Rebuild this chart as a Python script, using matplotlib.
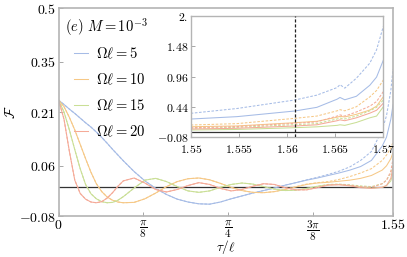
import matplotlib
matplotlib.use("Agg")
import matplotlib.pyplot as plt
from matplotlib.lines import Line2D

plt.rcParams['mathtext.fontset'] = 'cm'
plt.rcParams['font.family'] = 'serif'
plt.rcParams['font.serif'] = ['DejaVu Serif']

# --- main panel data (tau/l, F) ---
x_main = [0, 0.025, 0.05, 0.075, 0.1, 0.125, 0.15, 0.175, 0.2, 0.225, 0.25, 0.275, 0.3,
          0.35, 0.4, 0.45, 0.5, 0.55, 0.6, 0.65, 0.7, 0.75, 0.8, 0.85, 0.9, 0.95, 1.0,
          1.05, 1.1, 1.15, 1.2, 1.25, 1.3, 1.35, 1.4, 1.45, 1.5, 1.52, 1.54, 1.55]

blue_solid = [0.243, 0.231, 0.218, 0.206, 0.193, 0.180, 0.168, 0.154, 0.139, 0.123, 0.106, 0.090, 0.074,
              0.044, 0.018, -0.003, -0.020, -0.033, -0.041, -0.046, -0.047, -0.041, -0.032, -0.024, -0.016, -0.009, -0.002,
              0.006, 0.013, 0.020, 0.026, 0.033, 0.040, 0.048, 0.058, 0.075, 0.115, 0.14, 0.19, 0.23]
blue_dash = [0.243, 0.231, 0.218, 0.206, 0.193, 0.180, 0.168, 0.154, 0.139, 0.123, 0.106, 0.090, 0.074,
             0.044, 0.018, -0.003, -0.020, -0.033, -0.041, -0.046, -0.047, -0.041, -0.032, -0.024, -0.016, -0.009, -0.002,
             0.006, 0.013, 0.021, 0.028, 0.036, 0.045, 0.057, 0.075, 0.100, 0.16, 0.20, 0.27, 0.33]

orange_solid = [0.243, 0.225, 0.195, 0.160, 0.120, 0.080, 0.042, 0.010, -0.012, -0.027, -0.036, -0.041, -0.043,
                -0.042, -0.032, -0.016, 0.002, 0.016, 0.024, 0.026, 0.021, 0.011, 0.000, -0.009, -0.014, -0.015, -0.012,
                -0.006, 0.001, 0.008, 0.012, 0.014, 0.017, 0.020, 0.025, 0.033, 0.048, 0.060, 0.080, 0.097]
orange_dash = [0.243, 0.225, 0.195, 0.160, 0.120, 0.080, 0.042, 0.010, -0.012, -0.027, -0.036, -0.041, -0.043,
               -0.042, -0.032, -0.016, 0.002, 0.016, 0.024, 0.026, 0.021, 0.011, 0.000, -0.009, -0.014, -0.015, -0.012,
               -0.006, 0.002, 0.009, 0.013, 0.016, 0.022, 0.030, 0.040, 0.052, 0.075, 0.090, 0.110, 0.126]

green_solid = [0.243, 0.210, 0.160, 0.105, 0.052, 0.008, -0.018, -0.032, -0.040, -0.043, -0.042, -0.036, -0.026,
               -0.002, 0.020, 0.025, 0.016, 0.002, -0.010, -0.014, -0.010, 0.000, 0.008, 0.012, 0.009, 0.002, -0.005,
               -0.009, -0.008, -0.003, 0.003, 0.007, 0.008, 0.005, 0.001, -0.002, 0.000, 0.005, 0.018, 0.040]
green_dash = [0.243, 0.210, 0.160, 0.105, 0.052, 0.008, -0.018, -0.032, -0.040, -0.043, -0.042, -0.036, -0.026,
              -0.002, 0.020, 0.025, 0.016, 0.002, -0.010, -0.014, -0.010, 0.000, 0.008, 0.012, 0.009, 0.002, -0.005,
              -0.009, -0.008, -0.003, 0.003, 0.008, 0.009, 0.007, 0.004, 0.002, 0.010, 0.020, 0.040, 0.070]

red_solid = [0.243, 0.190, 0.100, 0.020, -0.017, -0.033, -0.041, -0.043, -0.040, -0.030, -0.015, 0.003, 0.018,
             0.026, 0.012, -0.006, -0.013, -0.006, 0.005, 0.013, 0.008, -0.003, -0.010, -0.006, 0.003, 0.010, 0.008,
             -0.001, -0.007, -0.007, -0.001, 0.006, 0.007, 0.004, -0.001, -0.003, 0.000, 0.005, 0.025, 0.057]
red_dash = [0.243, 0.190, 0.100, 0.020, -0.017, -0.033, -0.041, -0.043, -0.040, -0.030, -0.015, 0.003, 0.018,
            0.026, 0.012, -0.006, -0.013, -0.006, 0.005, 0.013, 0.008, -0.003, -0.010, -0.006, 0.003, 0.010, 0.008,
            -0.001, -0.007, -0.007, 0.000, 0.007, 0.008, 0.006, 0.002, 0.000, 0.010, 0.020, 0.045, 0.080]

# --- inset data (zoom near tau/l -> pi/2) ---
x_ins = [1.55, 1.5548, 1.5608, 1.5631, 1.5652, 1.5655, 1.5660, 1.5672, 1.5686, 1.5693, 1.57]
ins_blue_dash = [0.327, 0.41, 0.556, 0.64, 0.77, 0.82, 0.76, 0.93, 1.19, 1.42, 1.82]
ins_blue_solid = [0.229, 0.27, 0.367, 0.43, 0.57, 0.60, 0.56, 0.62, 0.81, 0.95, 1.24]
ins_orange_dash = [0.126, 0.15, 0.241, 0.28, 0.37, 0.39, 0.37, 0.44, 0.61, 0.72, 0.90]
ins_orange_solid = [0.097, 0.11, 0.166, 0.19, 0.26, 0.275, 0.265, 0.31, 0.384, 0.45, 0.612]
ins_red_dash = [0.08, 0.10, 0.155, 0.18, 0.28, 0.30, 0.28, 0.35, 0.45, 0.53, 0.70]
ins_red_solid = [0.057, 0.07, 0.109, 0.13, 0.20, 0.215, 0.20, 0.25, 0.33, 0.38, 0.50]
ins_green_dash = [0.07, 0.085, 0.132, 0.15, 0.23, 0.245, 0.23, 0.28, 0.37, 0.43, 0.556]
ins_green_solid = [0.04, 0.05, 0.08, 0.095, 0.12, 0.13, 0.12, 0.17, 0.25, 0.28, 0.44]
x_mark = 1.5608

omegas = [5, 10, 15, 20]
colors = ['#a6bce6', '#f6c886', '#cadf96', '#f5aa98']

main_solid = [blue_solid, orange_solid, green_solid, red_solid]
main_dash = [blue_dash, orange_dash, green_dash, red_dash]
inset_solid = [ins_blue_solid, ins_orange_solid, ins_green_solid, ins_red_solid]
inset_dash = [ins_blue_dash, ins_orange_dash, ins_green_dash, ins_red_dash]

frame_col = '#b4b4b4'

fig = plt.figure(figsize=(4.07, 2.57), dpi=100)
ax = fig.add_axes([0.144, 0.1595, 0.8216, 0.8093])

ax.axhline(0, color='#333333', lw=0.9, zorder=1)
for c, ys, yd in zip(colors, main_solid, main_dash):
    ax.plot(x_main, ys, color=c, lw=0.75, zorder=2)
    ax.plot(x_main, yd, color=c, lw=0.75, dashes=(2.5, 1.5), zorder=2)

ax.set_xlim(0, 1.55)
ax.set_ylim(-0.08, 0.5)
ax.set_xticks([0, 3.14159265 / 8, 3.14159265 / 4, 3 * 3.14159265 / 8, 1.55])
ax.set_xticklabels(['$0$', r'$\dfrac{\pi}{8}$', r'$\dfrac{\pi}{4}$', r'$\dfrac{3\pi}{8}$', '$1.55$'])
ax.set_yticks([-0.08, 0.06, 0.21, 0.35, 0.5])
ax.set_yticklabels(['$-0.08$', '$0.06$', '$0.21$', '$0.35$', '$0.5$'])
ax.tick_params(direction='in', length=3, width=0.6, color='#999999', labelsize=10, pad=2)
ax.tick_params(axis='x', labelsize=8, pad=1.5)
# keep plain tick labels at the normal size
for lab in ax.get_xticklabels():
    if 'frac' not in lab.get_text():
        lab.set_fontsize(10)
for s in ax.spines.values():
    s.set_color(frame_col)
    s.set_linewidth(1.2)
ax.set_xlabel(r'$\tau/\ell$', fontsize=9.5)
ax.xaxis.set_label_coords(0.5, -0.108)
ax.set_ylabel(r'$\mathcal{F}$', fontsize=10, labelpad=1)

ax.text(0.019, 0.909, r'$(e)\ M = 10^{-3}$', transform=ax.transAxes,
        fontsize=10.5, ha='left', va='center')
handles = [Line2D([], [], color=c, lw=0.75) for c in colors]
labels = [r'$\Omega\ell = %d$' % o for o in omegas]
ax.legend(handles, labels, loc='upper left', bbox_to_anchor=(0.01, 0.875),
          frameon=False, fontsize=10.5, handlelength=1.0, handletextpad=0.55,
          labelspacing=0.72, borderaxespad=0.4)

# inset
axi = fig.add_axes([0.4686, 0.4669, 0.4732, 0.4708], zorder=5)
axi.set_facecolor('white')
axi.axhline(0, color='#333333', lw=0.9, zorder=1)
axi.axvline(x_mark, color='#222222', lw=0.9, dashes=(2.5, 1.5), zorder=3)
for c, ys, yd in zip(colors, inset_solid, inset_dash):
    axi.plot(x_ins, ys, color=c, lw=0.75, zorder=2)
    axi.plot(x_ins, yd, color=c, lw=0.75, dashes=(2.5, 1.5), zorder=2)
axi.set_xlim(1.55, 1.57)
axi.set_ylim(-0.08, 2.0)
axi.set_xticks([1.55, 1.555, 1.56, 1.565, 1.57])
axi.set_xticklabels(['$1.55$', '$1.555$', '$1.56$', '$1.565$', '$1.57$'])
axi.set_yticks([-0.08, 0.44, 0.96, 1.48, 2.0])
axi.set_yticklabels(['$-0.08$', '$0.44$', '$0.96$', '$1.48$', '$2.$'])
axi.tick_params(direction='in', length=3, width=0.6, color='#999999', labelsize=8.5, pad=1.5)
axi.tick_params(axis='x', pad=4.5)
for s in axi.spines.values():
    s.set_color(frame_col)
    s.set_linewidth(1.0)

fig.savefig('out.png', dpi=100)
